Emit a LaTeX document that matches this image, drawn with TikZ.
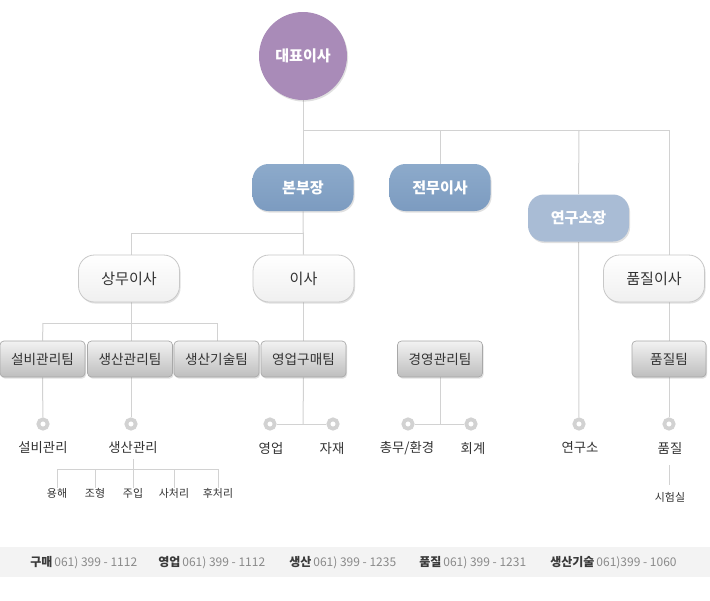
\documentclass[tikz,border=0pt]{standalone}
\usepackage{fontspec}
\setmainfont{Noto Sans CJK KR}
\usetikzlibrary{shadows,backgrounds}
\definecolor{ln}{HTML}{D2D2D2}
\definecolor{txt}{HTML}{333333}
\definecolor{ceoC}{HTML}{A98BB8}
\definecolor{blueC}{HTML}{80A1C5}
\definecolor{blueD}{HTML}{7C9BC0}
\definecolor{lblueC}{HTML}{A9BCD5}
\definecolor{teamT}{HTML}{F2F2F2}
\definecolor{teamB}{HTML}{BEBEBE}
\definecolor{teamL}{HTML}{A8A8A8}
\definecolor{whiteL}{HTML}{C8C8C8}
\definecolor{barC}{HTML}{F3F3F3}
\definecolor{numC}{HTML}{8A8A8A}
\definecolor{barT}{HTML}{3A3A3A}
\tikzset{
  conn/.style={draw=ln, line width=0.75pt},
  shad/.style={drop shadow={shadow xshift=0.8pt, shadow yshift=-1.2pt, opacity=0.2, fill=black!60}},
  bigbox/.style={rounded corners=12pt, minimum width=75.75pt, minimum height=35.25pt, inner sep=0pt, font=\fontsize{11.3pt}{13pt}\selectfont, shad},
  bluebox/.style={bigbox, top color=blueC!90!white, bottom color=blueD, text=white, font=\fontsize{11.3pt}{13pt}\selectfont\bfseries},
  lbluebox/.style={bigbox, fill=lblueC, text=white, font=\fontsize{11.3pt}{13pt}\selectfont\bfseries},
  whitebox/.style={bigbox, draw=whiteL, line width=0.6pt, top color=white, bottom color=black!6, text=txt},
  teambox/.style={rounded corners=3pt, minimum width=63.75pt, minimum height=27pt, inner sep=0pt, draw=teamL, line width=0.5pt, top color=teamT, bottom color=teamB, text=txt, font=\fontsize{10.2pt}{12pt}\selectfont, shad},
  dotnode/.style={circle, draw=ln, line width=2.8pt, fill=white, minimum size=7pt, inner sep=0pt},
  lbl/.style={text=txt, inner sep=0pt, font=\fontsize{10pt}{12pt}\selectfont},
  sublbl/.style={text=txt, inner sep=0pt, font=\fontsize{8.2pt}{10pt}\selectfont},
  barlbl/.style={anchor=west, inner sep=0pt, font=\fontsize{9pt}{11pt}\selectfont}
}
\begin{document}
\begin{tikzpicture}[x=0.75pt, y=-0.75pt]
\useasboundingbox (0,0) rectangle (710,600);
% main nodes
\node[circle, fill=ceoC, minimum size=66pt, inner sep=0pt, text=white, font=\fontsize{11.3pt}{13pt}\selectfont\bfseries, shad] (ceo) at (303,56) {대표이사};
\node[bluebox] (bbj) at (303,187.5) {본부장};
\node[bluebox] (jmi) at (440,187.5) {전무이사};
\node[lbluebox] (yks) at (578.5,218) {연구소장};
\node[whitebox] (pji) at (654,278.5) {품질이사};
\node[whitebox] (smi) at (129,278.5) {상무이사};
\node[whitebox] (isa) at (303.5,278.5) {이사};
% teams
\node[teambox] (t1) at (42.5,359) {설비관리팀};
\node[teambox] (t2) at (130,359) {생산관리팀};
\node[teambox] (t3) at (216.5,359) {생산기술팀};
\node[teambox] (t4) at (303.5,359) {영업구매팀};
\node[teambox] (t5) at (440,359) {경영관리팀};
\node[teambox, minimum width=55.5pt] (t6) at (669,359) {품질팀};
% dots
\node[dotnode] (d1) at (43,424) {};
\node[dotnode] (d2) at (131,424) {};
\node[dotnode] (d3) at (270,424) {};
\node[dotnode] (d4) at (333,424) {};
\node[dotnode] (d5) at (408,424) {};
\node[dotnode] (d6) at (471,424) {};
\node[dotnode] (d7) at (579,424) {};
\node[dotnode] (d8) at (669,424) {};
% labels
\node[lbl] (l1) at (43,448) {설비관리};
\node[lbl] (l2) at (133,448) {생산관리};
\node[lbl] (l3) at (271,448) {영업};
\node[lbl] (l4) at (332,448) {자재};
\node[lbl] (l5) at (407,448) {총무/환경};
\node[lbl] (l6) at (473,448) {회계};
\node[lbl] (l7) at (580,448) {연구소};
\node[lbl] (l8) at (670,448) {품질};
\node[sublbl] (s1) at (57,493) {용해};
\node[sublbl] (s2) at (95,493) {조형};
\node[sublbl] (s3) at (133,493) {주입};
\node[sublbl] (s4) at (174,493) {사처리};
\node[sublbl] (s5) at (218,493) {후처리};
\node[sublbl] (s6) at (670,497) {시험실};
% junction coordinates
\coordinate (h0) at (303,130);
\coordinate (h1) at (440,130);
\coordinate (h2) at (579,130);
\coordinate (h3) at (669,130);
\coordinate (b0) at (303,233);
\coordinate (b1) at (131,233);
\coordinate (m0) at (131,323);
\coordinate (m1) at (43,323);
\coordinate (m2) at (217,323);
\coordinate (e0) at (303,424);
\coordinate (k0) at (440,424);
\coordinate (p0) at (133,459);
\coordinate (p1) at (133,469);
\coordinate (p2) at (57,469);
\coordinate (p3) at (218,469);
\coordinate (q0) at (669,465);
\coordinate (q1) at (669,485);
\begin{scope}[on background layer]
\fill[white] (0,0) rectangle (710,600);
\fill[barC] (0,547) rectangle (710,577);
\draw[conn] (ceo.south) -- (bbj.north);
\draw[conn] (h0) -- (h3);
\draw[conn] (h1) -- (jmi.north);
\draw[conn] (h2) -- (yks.north);
\draw[conn] (h3) -- (h3 |- pji.north);
\draw[conn] (bbj.south) -- (isa.north);
\draw[conn] (b0) -- (b1) -- (b1 |- smi.north);
\draw[conn] (m0 |- smi.south) -- (m0);
\draw[conn] (m1) -- (m2);
\draw[conn] (m1) -- (t1.north);
\draw[conn] (m0) -- (m0 |- t2.north);
\draw[conn] (m2) -- (m2 |- t3.north);
\draw[conn] (isa.south) -- (t4.north);
\draw[conn] (t1.south) -- (d1);
\draw[conn] (d2 |- t2.south) -- (d2);
\draw[conn] (t4.south) -- (e0);
\draw[conn] (d3) -- (d4);
\draw[conn] (t5.south) -- (k0);
\draw[conn] (d5) -- (d6);
\draw[conn] (yks.south) -- (d7);
\draw[conn] (h3 |- pji.south) -- (t6.north);
\draw[conn] (t6.south) -- (d8);
\draw[conn] (p0) -- (p1);
\draw[conn] (p2) -- (p3);
\draw[conn] (p2) -- (s1.north);
\draw[conn] (s2.north) -- (s2.north |- p1);
\draw[conn] (p1) -- (s3.north);
\draw[conn] (s4.north) -- (s4.north |- p1);
\draw[conn] (p3) -- (s5.north);
\draw[conn] (q0) -- (q1);
\end{scope}
% bottom bar
\node[barlbl] (c1) at (30,562.5) {\textcolor{barT}{\bfseries 구매}\,\textcolor{numC}{061) 399 - 1112}};
\node[barlbl] (c2) at (158,562.5) {\textcolor{barT}{\bfseries 영업}\,\textcolor{numC}{061) 399 - 1112}};
\node[barlbl] (c3) at (289,562.5) {\textcolor{barT}{\bfseries 생산}\,\textcolor{numC}{061) 399 - 1235}};
\node[barlbl] (c4) at (419,562.5) {\textcolor{barT}{\bfseries 품질}\,\textcolor{numC}{061) 399 - 1231}};
\node[barlbl] (c5) at (550,562.5) {\textcolor{barT}{\bfseries 생산기술}\,\textcolor{numC}{061)399 - 1060}};
\end{tikzpicture}
\end{document}
